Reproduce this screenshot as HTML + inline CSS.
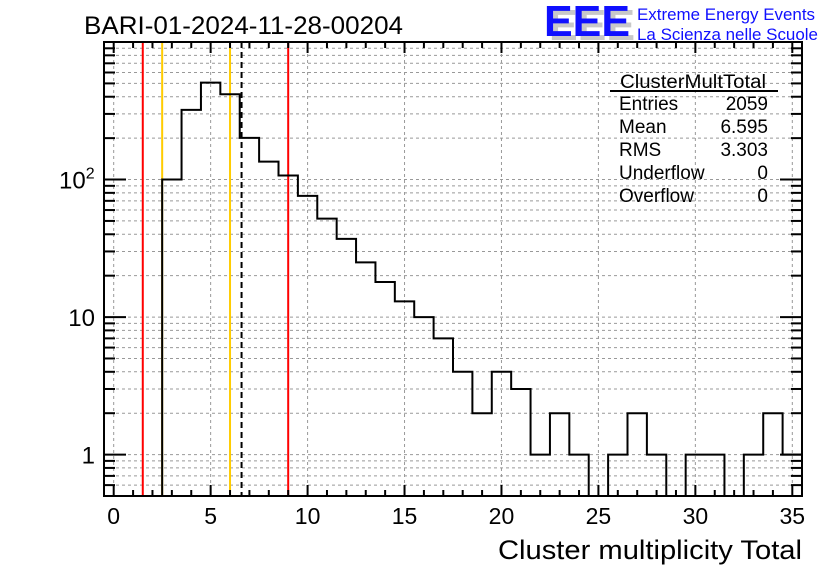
<!DOCTYPE html>
<html><head><meta charset="utf-8">
<style>
html,body{margin:0;padding:0;background:#fff;}
body{width:836px;height:572px;overflow:hidden;font-family:"Liberation Sans",sans-serif;}
</style></head>
<body>
<svg id="chart" width="836" height="572" xmlns="http://www.w3.org/2000/svg" font-family="Liberation Sans, sans-serif">
<g id="grid"></g>
<g id="lines"></g>
<g id="hist"></g>
<g id="axes"></g>
<text x="84" y="34" font-size="25" textLength="319" lengthAdjust="spacingAndGlyphs">BARI-01-2024-11-28-00204</text>
<g>
<text x="549" y="40" font-size="44" font-weight="bold" fill="#c8c8c8" textLength="86" lengthAdjust="spacingAndGlyphs">EEE</text>
<text x="544" y="36" font-size="44" font-weight="bold" fill="#1010ff" textLength="86" lengthAdjust="spacingAndGlyphs">EEE</text>
<text x="637" y="20" font-size="17" fill="#1010ff" textLength="178" lengthAdjust="spacingAndGlyphs">Extreme Energy Events</text>
<text x="637" y="40" font-size="17" fill="#1010ff" textLength="181" lengthAdjust="spacingAndGlyphs">La Scienza nelle Scuole</text>
</g>
<g font-size="19">
<text x="620" y="88" textLength="146" lengthAdjust="spacingAndGlyphs">ClusterMultTotal</text>
<line x1="610" y1="91" x2="778" y2="91" stroke="#000" stroke-width="2"/>
<text x="619" y="110">Entries</text><text x="768" y="110" text-anchor="end">2059</text>
<text x="619" y="133">Mean</text><text x="768" y="133" text-anchor="end">6.595</text>
<text x="619" y="156">RMS</text><text x="768" y="156" text-anchor="end">3.303</text>
<text x="619" y="179">Underflow</text><text x="768" y="179" text-anchor="end">0</text>
<text x="619" y="202">Overflow</text><text x="768" y="202" text-anchor="end">0</text>
</g>
<text x="802" y="559" font-size="27" text-anchor="end" textLength="304" lengthAdjust="spacingAndGlyphs">Cluster multiplicity Total</text>
</svg>
<script>
const binCenters=[3,4,5,6,7,8,9,10,11,12,13,14,15,16,17,18,19,20,21,22,23,24,25,26,27,28,29,30,31,32,33,34,35];
const binCounts=[100,321,507,417,201,135,107,76,52,37,25,18,13,10,7,4,2,4,3,1,2,1,0,1,2,1,0,1,1,0,1,2,1];
const xTicks=[0,5,10,15,20,25,30,35];
const yMajorTicks=[1,10,100];
const yTickBase=["1","10","10"];
const yTickExp=["","","2"];
const redLines=[1.5,9];
const yellowLines=[2.5,6];
const meanValue=6.595;

const L=104,R=802,T=42,B=496;
const xMin=-0.5,xMax=35.5,yMin=0.5,yMax=1000;
const xs=v=>L+(v-xMin)/(xMax-xMin)*(R-L);
const ys=v=>B-(Math.log10(v)-Math.log10(yMin))/(Math.log10(yMax)-Math.log10(yMin))*(B-T);
const NS="http://www.w3.org/2000/svg";
function mk(tag,attrs,parent){const e=document.createElementNS(NS,tag);for(const k in attrs)e.setAttribute(k,attrs[k]);parent.appendChild(e);return e;}
const grid=document.getElementById('grid'),axes=document.getElementById('axes'),lines=document.getElementById('lines'),hist=document.getElementById('hist');

xTicks.forEach(t=>{const g=mk('line',{x1:xs(t),x2:xs(t),y1:T,y2:B,stroke:'#999','stroke-dasharray':'3,3','stroke-width':1},grid);

});
const yGridVals=[];
for(let d of [0.1,1,10,100]){for(let m=1;m<=9;m++){const v=d*m;if(v>=yMin&&v<=yMax)yGridVals.push(v);}}
yGridVals.forEach(v=>{const g=mk('line',{x1:L,x2:R,y1:ys(v),y2:ys(v),stroke:'#999','stroke-dasharray':'3,3','stroke-width':1},grid);

});

redLines.forEach(v=>{const l=mk('line',{x1:xs(v),x2:xs(v),y1:T,y2:B,stroke:'#ff0000','stroke-width':2},lines);

});
yellowLines.forEach(v=>{const l=mk('line',{x1:xs(v),x2:xs(v),y1:T,y2:B,stroke:'#ffcc00','stroke-width':2},lines);

});
const ml=mk('line',{x1:xs(meanValue),x2:xs(meanValue),y1:T,y2:B,stroke:'#000','stroke-width':2,'stroke-dasharray':'6,4'},lines);



let d='';
binCenters.forEach((c,i)=>{const v=binCounts[i];const y=v>0?Math.max(T,ys(v)):B;const x0=xs(c-0.5),x1=xs(c+0.5);
if(i===0)d+=`M${x0},${B}`;
d+=`L${x0},${y}L${x1},${y}`;});
d+=`L${xs(binCenters[binCenters.length-1]+0.5)},${B}`;
const hp=mk('path',{d:d,fill:'none',stroke:'#000','stroke-width':2},hist);



const fr=mk('rect',{x:L,y:T,width:R-L,height:B-T,fill:'none',stroke:'#000','stroke-width':2},axes);


for(let t=0;t<=35;t++){const maj=t%5===0;const len=maj?11:6;
mk('line',{x1:xs(t),x2:xs(t),y1:B,y2:B-len,stroke:'#000','stroke-width':2},axes);
mk('line',{x1:xs(t),x2:xs(t),y1:T,y2:T+len,stroke:'#000','stroke-width':2},axes);}
xTicks.forEach(t=>{const tx=mk('text',{x:xs(t),y:B+28,'font-size':23,'text-anchor':'middle'},axes);tx.textContent=t;

});
yGridVals.forEach(v=>{const maj=yMajorTicks.includes(v);const len=maj?22:11;
mk('line',{x1:L,x2:L+len,y1:ys(v),y2:ys(v),stroke:'#000','stroke-width':2},axes);
mk('line',{x1:R,x2:R-len,y1:ys(v),y2:ys(v),stroke:'#000','stroke-width':2},axes);});
yMajorTicks.forEach((v,i)=>{
const hasExp=yTickExp[i]!=='';
const tx=mk('text',{x:hasExp?L-45:L-9,y:ys(v)+9,'font-size':24,'text-anchor':hasExp?'start':'end'},axes);
tx.textContent=yTickBase[i];
if(hasExp){const sp=mk('tspan',{dy:-10,'font-size':16},tx);sp.textContent=yTickExp[i];}

});
</script>
</body></html>
